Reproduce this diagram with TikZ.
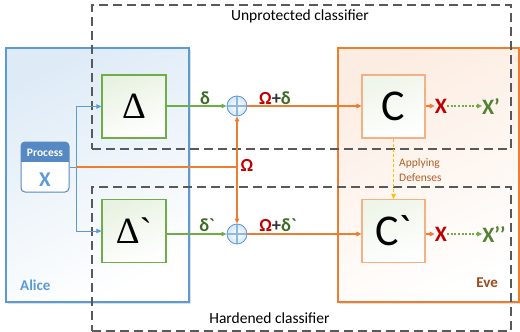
\documentclass[tikz,border=0pt]{standalone}
\usepackage{fontspec}
\setmainfont{Carlito}
\newfontfamily\tms{Liberation Serif}
\usetikzlibrary{arrows.meta,shadows}
\definecolor{aliceb}{HTML}{5B9BD5}
\definecolor{procb}{HTML}{5689C4}
\definecolor{eveo}{HTML}{ED7D31}
\definecolor{gbord}{HTML}{70AD47}
\definecolor{dkgreen}{HTML}{3A6B22}
\definecolor{xgreen}{HTML}{548235}
\definecolor{omred}{HTML}{C00000}
\definecolor{cbord}{HTML}{F4B183}
\definecolor{dashg}{HTML}{595959}
\definecolor{evetxt}{HTML}{9E4A1A}
\definecolor{apptxt}{HTML}{B0602A}
\definecolor{goldc}{HTML}{FFC000}
\begin{document}
\begin{tikzpicture}[x=1pt,y=-1pt,
  tip/.style={-{Triangle[length=5pt,width=4.5pt]}},
  dashbox/.style={draw=dashg,line width=1.6pt,dash pattern=on 9pt off 5pt,minimum width=419pt,minimum height=144pt,inner sep=0pt},
  bigbox/.style={line width=1.8pt,minimum height=254pt,inner sep=0pt,drop shadow={shadow xshift=2pt,shadow yshift=-2pt,opacity=0.25}},
  gbox/.style={draw=gbord,line width=1.2pt,minimum width=64pt,minimum height=63pt,inner sep=0pt,top color=gbord!16,bottom color=white,shading angle=20},
  cbox/.style={draw=cbord,line width=1.2pt,minimum width=63pt,minimum height=63pt,inner sep=0pt,top color=gbord!12,bottom color=white,shading angle=20},
  pluscirc/.style={circle,draw=aliceb,line width=0.8pt,minimum size=20pt,inner sep=0pt,inner color=white,outer color=aliceb!25,
    path picture={\draw[aliceb!70,line width=1.1pt] (path picture bounding box.north) -- (path picture bounding box.south) (path picture bounding box.west) -- (path picture bounding box.east);}},
  lbl/.style={font=\fontsize{18.5}{20}\selectfont\bfseries,inner sep=0pt},
  xl/.style={font=\fontsize{22}{24}\selectfont\bfseries,inner sep=0pt},
  bline/.style={draw=aliceb,line width=0.9pt},
  oline/.style={draw=eveo,line width=1.1pt},
  gline/.style={draw=gbord,line width=1.3pt},
  dotl/.style={draw=gbord,line width=1.1pt,dash pattern=on 2pt off 1.6pt},
  ttl/.style={font=\fontsize{15.5}{18}\selectfont,inner sep=0pt}
]
\useasboundingbox (0,0) rectangle (520,332);
% big boxes
\node (alice) [bigbox,draw=aliceb,minimum width=183pt,top color=aliceb!20,bottom color=white,shading angle=25] at (97.5,175) {};
\node (eve) [bigbox,draw=eveo,minimum width=181pt,top color=eveo!14,bottom color=white,shading angle=25] at (428.5,175) {};
\node (alicet) [font=\fontsize{15}{18}\selectfont\bfseries,text=aliceb,anchor=west,inner sep=0pt] at (20,285) {Alice};
\node (evet) [font=\fontsize{15}{18}\selectfont\bfseries,text=evetxt,anchor=east,inner sep=0pt] at (498,283) {Eve};
% dashed boxes
\node (unprot) [dashbox] at (301.5,77) {};
\node (hard) [dashbox] at (301.5,259) {};
\node (unprott) [ttl] at (300,16) {Unprotected classifier};
\node (hardt) [ttl] at (269.5,318) {Hardened classifier};
% process box
\begin{scope}
\clip[rounded corners=4pt] (21,142) rectangle (69,192);
\fill[white] (21,142) rectangle (69,192);
\fill[procb] (21,142) rectangle (69,162);
\end{scope}
\node (proc) [draw=procb,line width=1pt,rounded corners=4pt,minimum width=48pt,minimum height=50pt,inner sep=0pt] at (45,167) {};
\node (proct) [font=\fontsize{11.5}{13}\selectfont\bfseries,text=white,inner sep=0pt] at (45,152.5) {Process};
\node (procx) [font=\fontsize{21}{24}\selectfont\bfseries,text=aliceb,inner sep=0pt] at (45,180) {X};
% delta boxes
\node (d1) [gbox] at (134,106.5) {\tms\fontsize{37}{37}\selectfont Δ};
\node (d2) [gbox] at (134,231) {\tms\fontsize{37}{37}\selectfont Δ\textasciigrave};
% plus circles
\node (p1) [pluscirc] at (237,106) {};
\node (p2) [pluscirc] at (237,234) {};
% classifier boxes
\node (c1) [cbox] at (393.5,106.5) {\fontsize{44}{44}\selectfont C};
\node (c2) [cbox] at (393.5,231) {\fontsize{44}{44}\selectfont C\textasciigrave};
% outputs
\node (x1) [xl,text=omred] at (441,106) {X};
\node (xp1) [xl,text=xgreen] at (491,106) {X’};
\node (x2) [xl,text=omred] at (441,234) {X};
\node (xp2) [xl,text=xgreen] at (494,234) {X’’};
% blue input lines
\coordinate (bj) at (76,167);
\draw[bline] (proc.east) -- (bj);
\draw[bline,tip] (bj) |- (d1.west);
\draw[bline,tip] (bj) |- (d2.west);
% orange omega line
\coordinate (oj) at (237,167);
\draw[oline] (bj) -- (oj);
\draw[oline,tip] (oj) -- (p1.south);
\draw[oline,tip] (oj) -- (p2.north);
\node (om) [lbl,text=omred] at (247,165) {Ω};
% green delta lines
\draw[gline,tip] (d1.east |- p1) -- (p1.west);
\draw[gline,tip] (d2.east |- p2) -- (p2.west);
\node (dl1) [lbl,text=dkgreen] at (205,98) {δ};
\node (dl2) [lbl,text=dkgreen] at (207,225) {δ\textasciigrave};
% to classifiers
\draw[oline,tip] (p1.east) -- (c1.west |- p1);
\draw[oline,tip] (p2.east) -- (c2.west |- p2);
\node (s1) [lbl] at (275,98) {\textcolor{omred}{Ω}\textcolor{black!80}{+}\textcolor{dkgreen}{δ}};
\node (s2) [lbl] at (278,225) {\textcolor{omred}{Ω}\textcolor{black!80}{+}\textcolor{dkgreen}{δ\textasciigrave}};
% outputs arrows
\draw[oline,tip] (c1.east |- x1) -- (x1.west);
\draw[oline,tip] (c2.east |- x2) -- (x2.west);
\draw[dotl,tip] (x1.east) -- (xp1.west);
\draw[dotl,tip] (x2.east) -- (xp2.west);
% applying defenses
\draw[draw=goldc,line width=1pt,dash pattern=on 3pt off 2pt,tip] (c1.south) -- (c2.north);
\node (app) [font=\fontsize{11.5}{15}\selectfont,text=apptxt,align=left,anchor=west,inner sep=0pt] at (399,170.5) {Applying\\Defenses};
\end{tikzpicture}
\end{document}
